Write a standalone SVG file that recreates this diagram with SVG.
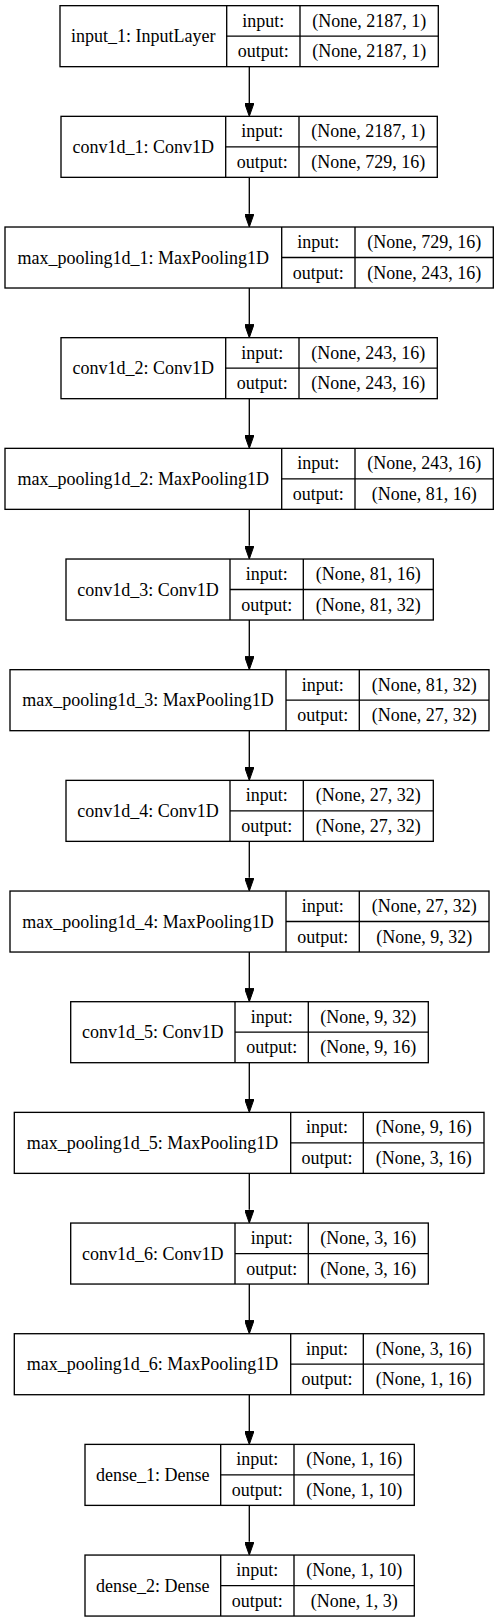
<svg xmlns="http://www.w3.org/2000/svg" width="499" height="1623" viewBox="0 0 499 1623">
<style>
.n rect{fill:#fff;stroke:#000;stroke-width:1.33}
.n path{fill:none;stroke:#000;stroke-width:1.33}
.n text{font-family:"Liberation Serif","Times New Roman",serif;font-size:18px;fill:#000;text-anchor:middle}
#edges line{stroke:#000;stroke-width:1.33}
</style>
<defs>
<marker id="ah" viewBox="0 0 13.3 9.4" refX="0" refY="4.7" markerWidth="13.3" markerHeight="9.4" markerUnits="userSpaceOnUse" orient="auto">
<path d="M0,0L13.3,4.7L0,9.4z" fill="#000" stroke="#000" stroke-width="1"/>
</marker>
</defs>
<rect width="499" height="1623" fill="#fff"/>
<g id="edges">
<line x1="249.3" y1="66.67" x2="249.3" y2="103.04" marker-end="url(#ah)"/>
<line x1="249.3" y1="177.34" x2="249.3" y2="213.71" marker-end="url(#ah)"/>
<line x1="249.3" y1="288.01" x2="249.3" y2="324.38" marker-end="url(#ah)"/>
<line x1="249.3" y1="398.68" x2="249.3" y2="435.05" marker-end="url(#ah)"/>
<line x1="249.3" y1="509.35" x2="249.3" y2="545.72" marker-end="url(#ah)"/>
<line x1="249.3" y1="620.02" x2="249.3" y2="656.39" marker-end="url(#ah)"/>
<line x1="249.3" y1="730.69" x2="249.3" y2="767.06" marker-end="url(#ah)"/>
<line x1="249.3" y1="841.36" x2="249.3" y2="877.73" marker-end="url(#ah)"/>
<line x1="249.3" y1="952.03" x2="249.3" y2="988.40" marker-end="url(#ah)"/>
<line x1="249.3" y1="1062.70" x2="249.3" y2="1099.07" marker-end="url(#ah)"/>
<line x1="249.3" y1="1173.37" x2="249.3" y2="1209.74" marker-end="url(#ah)"/>
<line x1="249.3" y1="1284.04" x2="249.3" y2="1320.41" marker-end="url(#ah)"/>
<line x1="249.3" y1="1394.71" x2="249.3" y2="1431.08" marker-end="url(#ah)"/>
<line x1="249.3" y1="1505.38" x2="249.3" y2="1541.75" marker-end="url(#ah)"/>
</g>
<g id="input_1" class="n" transform="translate(0,5.67)">
<rect x="60" y="0" width="378.3" height="61"/>
<path d="M226.7 0V61M300 0V61M226.7 30.5H438.3"/>
<text x="143.35" y="36.5">input_1: InputLayer</text>
<text x="263.35" y="21">input:</text><text x="263.35" y="51.5">output:</text>
<text x="369.15" y="21">(None, 2187, 1)</text><text x="369.15" y="51.5">(None, 2187, 1)</text>
</g>
<g id="conv1d_1" class="n" transform="translate(0,116.34)">
<rect x="61" y="0" width="376.3" height="61"/>
<path d="M225.7 0V61M299 0V61M225.7 30.5H437.3"/>
<text x="143.35" y="36.5">conv1d_1: Conv1D</text>
<text x="262.35" y="21">input:</text><text x="262.35" y="51.5">output:</text>
<text x="368.15" y="21">(None, 2187, 1)</text><text x="368.15" y="51.5">(None, 729, 16)</text>
</g>
<g id="max_pooling1d_1" class="n" transform="translate(0,227.01)">
<rect x="5" y="0" width="488.3" height="61"/>
<path d="M281.7 0V61M355 0V61M281.7 30.5H493.3"/>
<text x="143.35" y="36.5">max_pooling1d_1: MaxPooling1D</text>
<text x="318.35" y="21">input:</text><text x="318.35" y="51.5">output:</text>
<text x="424.15" y="21">(None, 729, 16)</text><text x="424.15" y="51.5">(None, 243, 16)</text>
</g>
<g id="conv1d_2" class="n" transform="translate(0,337.68)">
<rect x="61" y="0" width="376.3" height="61"/>
<path d="M225.7 0V61M299 0V61M225.7 30.5H437.3"/>
<text x="143.35" y="36.5">conv1d_2: Conv1D</text>
<text x="262.35" y="21">input:</text><text x="262.35" y="51.5">output:</text>
<text x="368.15" y="21">(None, 243, 16)</text><text x="368.15" y="51.5">(None, 243, 16)</text>
</g>
<g id="max_pooling1d_2" class="n" transform="translate(0,448.35)">
<rect x="5" y="0" width="488.3" height="61"/>
<path d="M281.7 0V61M355 0V61M281.7 30.5H493.3"/>
<text x="143.35" y="36.5">max_pooling1d_2: MaxPooling1D</text>
<text x="318.35" y="21">input:</text><text x="318.35" y="51.5">output:</text>
<text x="424.15" y="21">(None, 243, 16)</text><text x="424.15" y="51.5">(None, 81, 16)</text>
</g>
<g id="conv1d_3" class="n" transform="translate(0,559.02)">
<rect x="66" y="0" width="367.3" height="61"/>
<path d="M230 0V61M303.3 0V61M230 30.5H433.3"/>
<text x="148" y="36.5">conv1d_3: Conv1D</text>
<text x="266.65" y="21">input:</text><text x="266.65" y="51.5">output:</text>
<text x="368.3" y="21">(None, 81, 16)</text><text x="368.3" y="51.5">(None, 81, 32)</text>
</g>
<g id="max_pooling1d_3" class="n" transform="translate(0,669.69)">
<rect x="10" y="0" width="479" height="61"/>
<path d="M286 0V61M359.3 0V61M286 30.5H489"/>
<text x="148" y="36.5">max_pooling1d_3: MaxPooling1D</text>
<text x="322.65" y="21">input:</text><text x="322.65" y="51.5">output:</text>
<text x="424.15" y="21">(None, 81, 32)</text><text x="424.15" y="51.5">(None, 27, 32)</text>
</g>
<g id="conv1d_4" class="n" transform="translate(0,780.36)">
<rect x="66" y="0" width="367.3" height="61"/>
<path d="M230 0V61M303.3 0V61M230 30.5H433.3"/>
<text x="148" y="36.5">conv1d_4: Conv1D</text>
<text x="266.65" y="21">input:</text><text x="266.65" y="51.5">output:</text>
<text x="368.3" y="21">(None, 27, 32)</text><text x="368.3" y="51.5">(None, 27, 32)</text>
</g>
<g id="max_pooling1d_4" class="n" transform="translate(0,891.03)">
<rect x="10" y="0" width="479" height="61"/>
<path d="M286 0V61M359.3 0V61M286 30.5H489"/>
<text x="148" y="36.5">max_pooling1d_4: MaxPooling1D</text>
<text x="322.65" y="21">input:</text><text x="322.65" y="51.5">output:</text>
<text x="424.15" y="21">(None, 27, 32)</text><text x="424.15" y="51.5">(None, 9, 32)</text>
</g>
<g id="conv1d_5" class="n" transform="translate(0,1001.70)">
<rect x="70.7" y="0" width="357.6" height="61"/>
<path d="M235 0V61M308.3 0V61M235 30.5H428.3"/>
<text x="152.85" y="36.5">conv1d_5: Conv1D</text>
<text x="271.65" y="21">input:</text><text x="271.65" y="51.5">output:</text>
<text x="368.3" y="21">(None, 9, 32)</text><text x="368.3" y="51.5">(None, 9, 16)</text>
</g>
<g id="max_pooling1d_5" class="n" transform="translate(0,1112.37)">
<rect x="14.3" y="0" width="469.7" height="61"/>
<path d="M290.7 0V61M363.3 0V61M290.7 30.5H484"/>
<text x="152.5" y="36.5">max_pooling1d_5: MaxPooling1D</text>
<text x="327" y="21">input:</text><text x="327" y="51.5">output:</text>
<text x="423.65" y="21">(None, 9, 16)</text><text x="423.65" y="51.5">(None, 3, 16)</text>
</g>
<g id="conv1d_6" class="n" transform="translate(0,1223.04)">
<rect x="70.7" y="0" width="357.6" height="61"/>
<path d="M235 0V61M308.3 0V61M235 30.5H428.3"/>
<text x="152.85" y="36.5">conv1d_6: Conv1D</text>
<text x="271.65" y="21">input:</text><text x="271.65" y="51.5">output:</text>
<text x="368.3" y="21">(None, 3, 16)</text><text x="368.3" y="51.5">(None, 3, 16)</text>
</g>
<g id="max_pooling1d_6" class="n" transform="translate(0,1333.71)">
<rect x="14.3" y="0" width="469.7" height="61"/>
<path d="M290.7 0V61M363.3 0V61M290.7 30.5H484"/>
<text x="152.5" y="36.5">max_pooling1d_6: MaxPooling1D</text>
<text x="327" y="21">input:</text><text x="327" y="51.5">output:</text>
<text x="423.65" y="21">(None, 3, 16)</text><text x="423.65" y="51.5">(None, 1, 16)</text>
</g>
<g id="dense_1" class="n" transform="translate(0,1444.38)">
<rect x="85" y="0" width="329.3" height="61"/>
<path d="M220.7 0V61M294 0V61M220.7 30.5H414.3"/>
<text x="152.85" y="36.5">dense_1: Dense</text>
<text x="257.35" y="21">input:</text><text x="257.35" y="51.5">output:</text>
<text x="354.15" y="21">(None, 1, 16)</text><text x="354.15" y="51.5">(None, 1, 10)</text>
</g>
<g id="dense_2" class="n" transform="translate(0,1555.05)">
<rect x="85" y="0" width="329.3" height="61"/>
<path d="M220.7 0V61M294 0V61M220.7 30.5H414.3"/>
<text x="152.85" y="36.5">dense_2: Dense</text>
<text x="257.35" y="21">input:</text><text x="257.35" y="51.5">output:</text>
<text x="354.15" y="21">(None, 1, 10)</text><text x="354.15" y="51.5">(None, 1, 3)</text>
</g>
</svg>
